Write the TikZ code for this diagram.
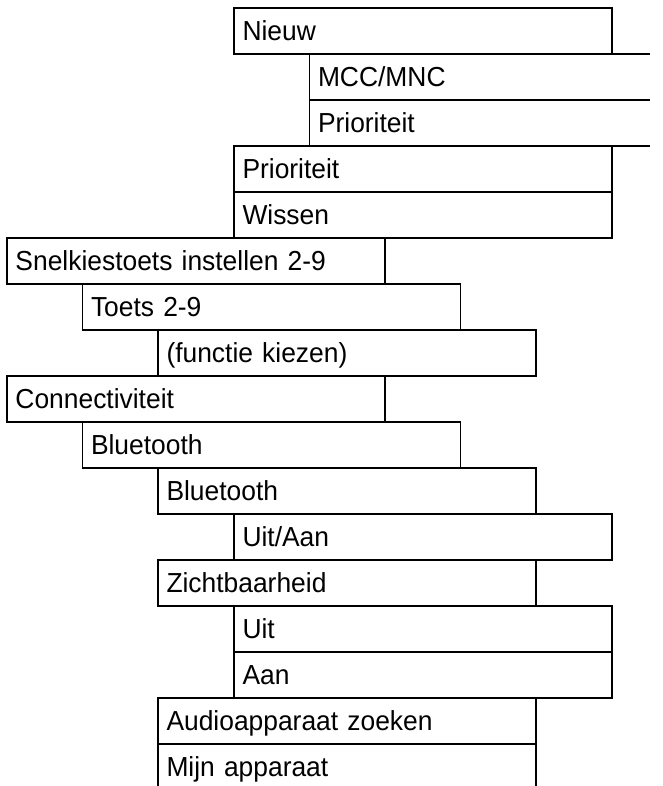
\documentclass[tikz,border=0pt]{standalone}
\usepackage{fontspec}
\setmainfont{Liberation Sans}[FakeStretch=0.96]
\begin{document}
\begin{tikzpicture}[x=1pt,y=-1pt,line width=1.7pt,
  cell/.style={rectangle, anchor=north west, inner xsep=8.5pt, inner ysep=0pt,
    outer sep=0pt, minimum height=46pt, text height=22.4pt, text depth=3.6pt,
    text width=#1, align=left, font=\fontsize{27.5pt}{30pt}\selectfont},
  cell/.default=361pt,
  boxed/.style={cell, draw},
  openright/.style={cell=323.5pt}]
\useasboundingbox (0,0) rectangle (662,786);
\clip (0,0) rectangle (662,786);
% rows: top = 8 + 46k
\node[boxed] (nieuw) at (234,8) {Nieuw};
\node[openright] (mcc) at (309.5,54) {MCC/MNC};
\draw (mcc.north east) -- (mcc.north west) -- (mcc.south west) -- (mcc.south east);
\node[openright] (prio1) at (309.5,100) {Prioriteit};
\draw (prio1.north east) -- (prio1.north west) -- (prio1.south west) -- (prio1.south east);
\node[boxed] (prio2) at (234,146) {Prioriteit};
\node[boxed] (wissen) at (234,192) {Wissen};
\node[boxed] (snel) at (7,238) {Snelkiestoets instellen 2-9};
\node[boxed] (toets) at (82.5,284) {Toets 2-9};
\node[boxed] (functie) at (158,330) {(functie kiezen)};
\node[boxed] (conn) at (7,376) {Connectiviteit};
\node[boxed] (bt1) at (82.5,422) {Bluetooth};
\node[boxed] (bt2) at (158,468) {Bluetooth};
\node[boxed] (uitaan) at (234,514) {Uit/Aan};
\node[boxed] (zicht) at (158,560) {Zichtbaarheid};
\node[boxed] (uit) at (234,606) {Uit};
\node[boxed] (aan) at (234,652) {Aan};
\node[boxed] (audio) at (158,698) {Audioapparaat zoeken};
\node[cell] (mijn) at (158,744) {Mijn apparaat};
\draw (mijn.south west) -- (mijn.north west) -- (mijn.north east) -- (mijn.south east);
\end{tikzpicture}
\end{document}
